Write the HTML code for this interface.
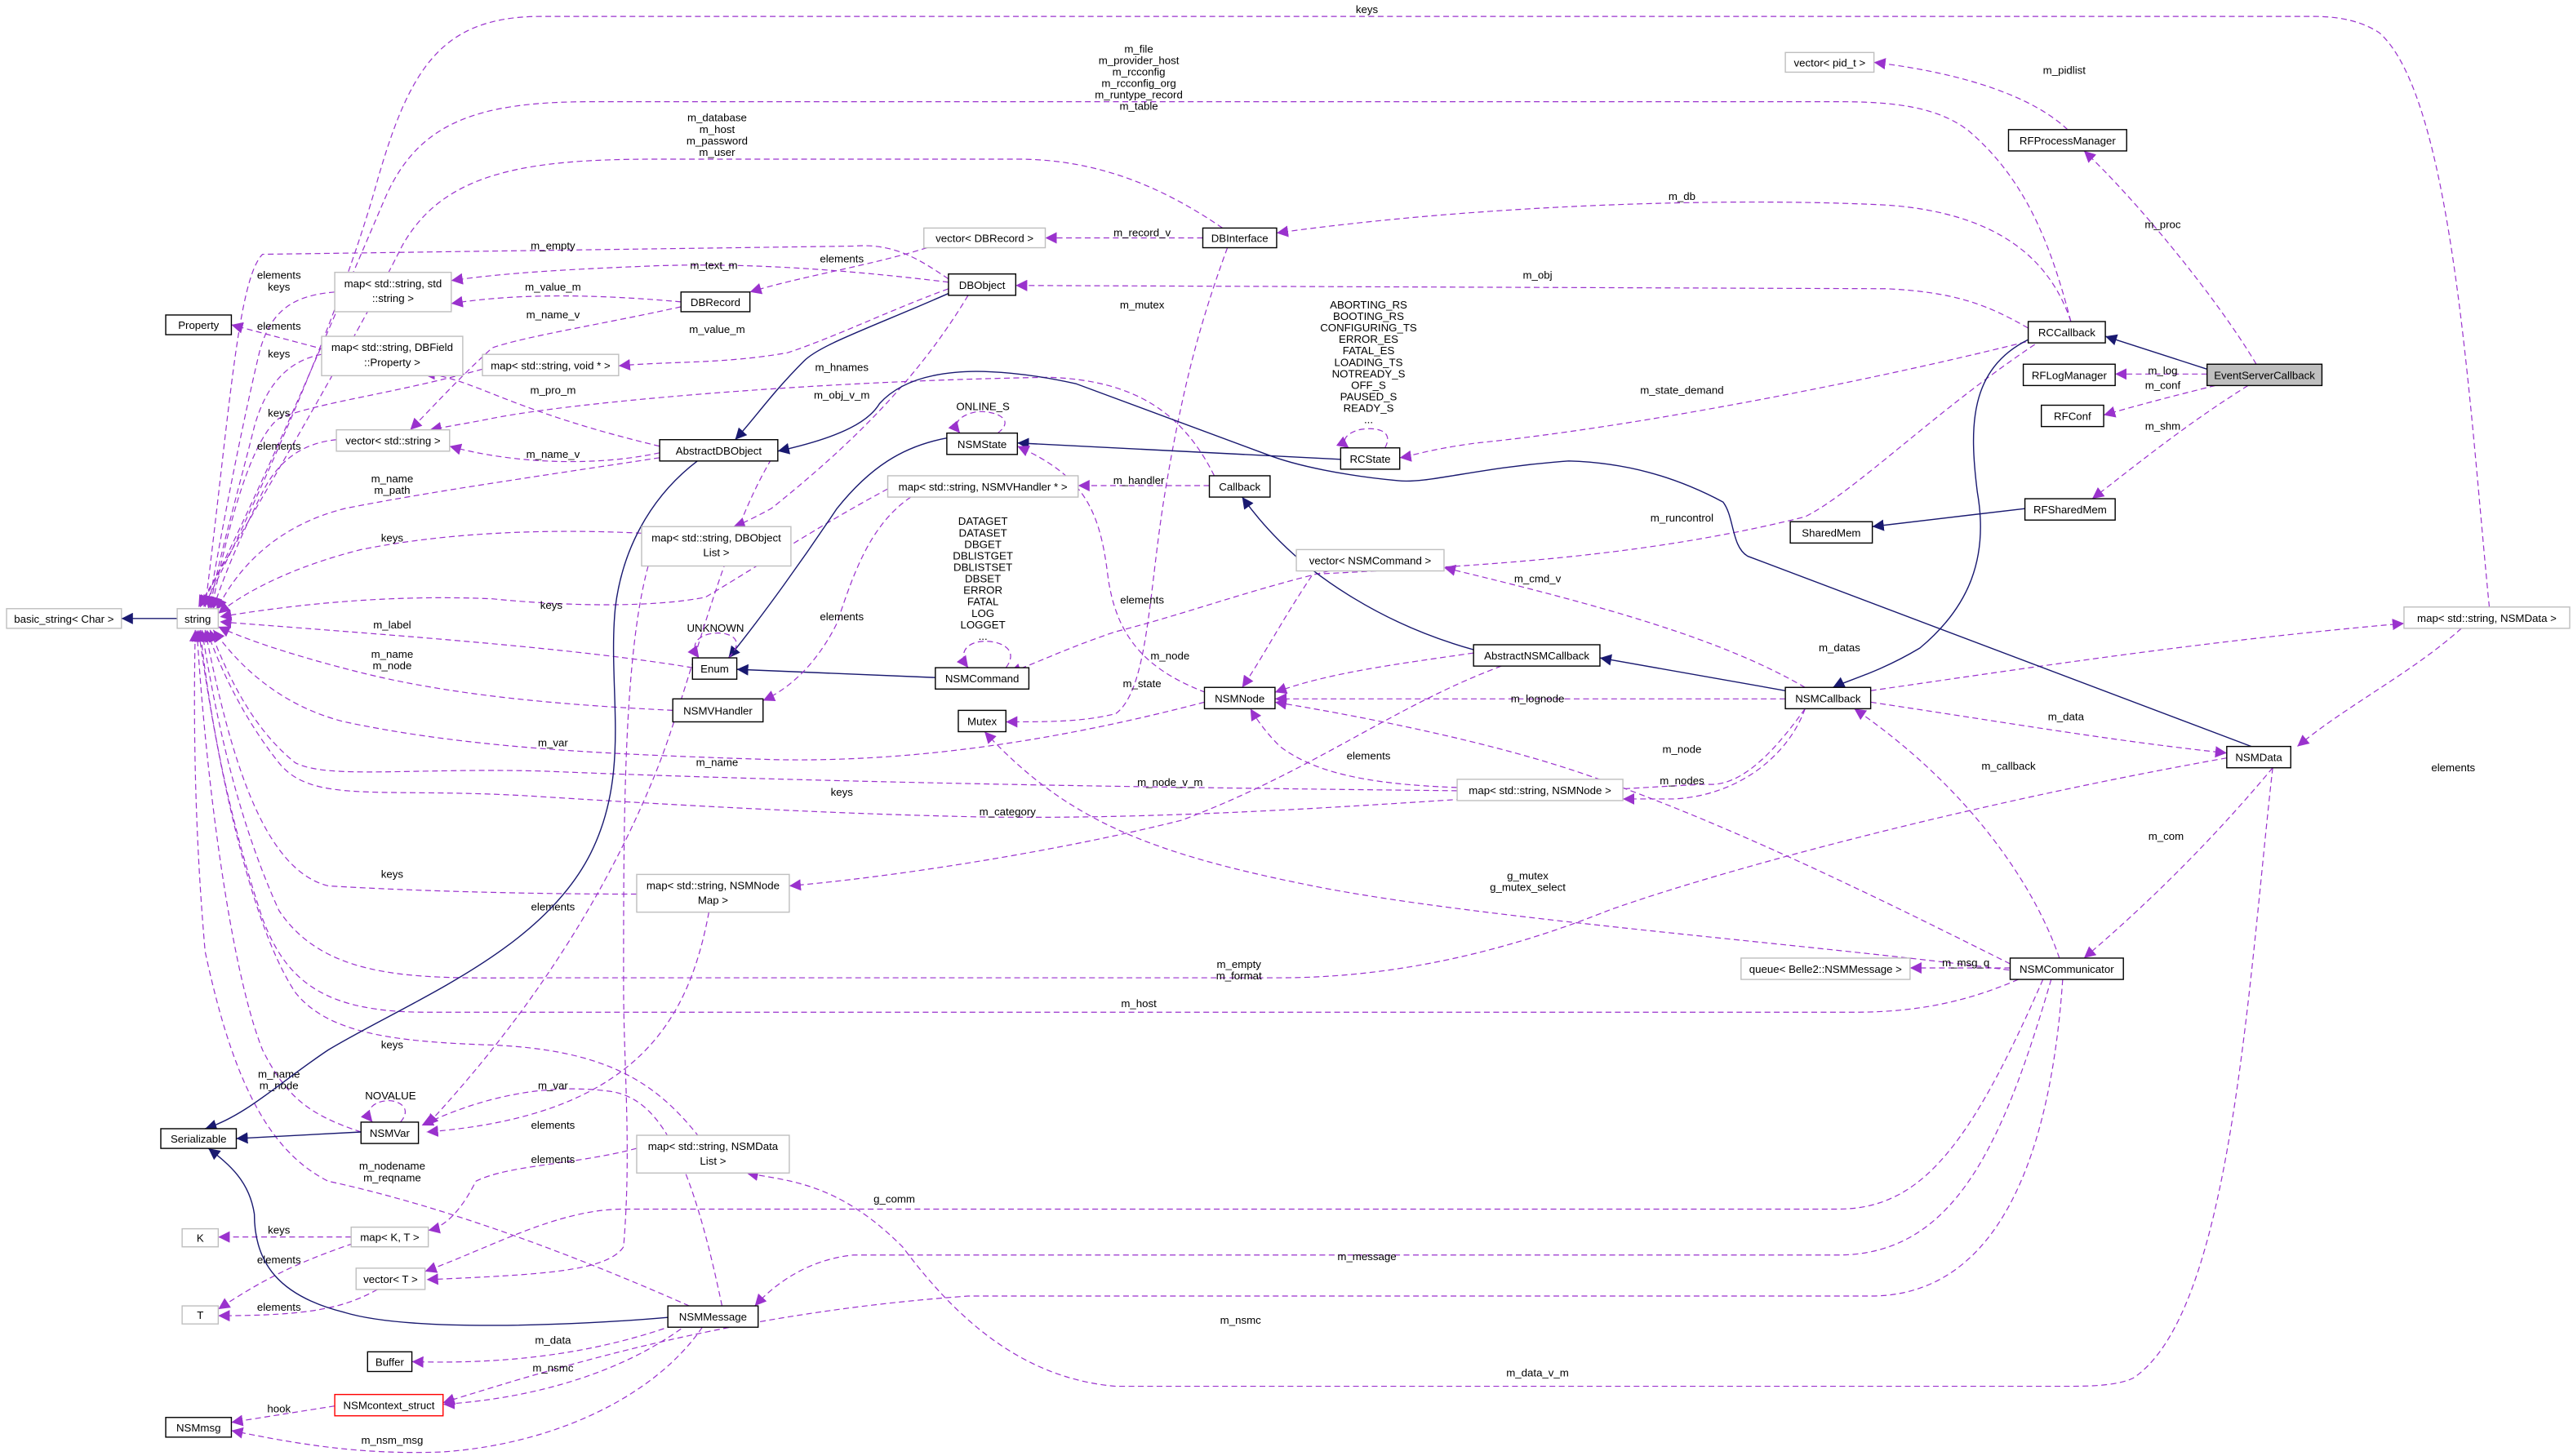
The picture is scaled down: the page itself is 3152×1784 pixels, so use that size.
<!DOCTYPE html>
<html><head><meta charset="utf-8"><style>
html,body{margin:0;padding:0;background:#fff;}
svg{display:block;}
text{font-family:"Liberation Sans",sans-serif;font-size:6.6px;fill:#000;}
.d{fill:none;stroke:#9a32cd;stroke-width:0.6;stroke-dasharray:3.5,2.2;}
.s{fill:none;stroke:#191970;stroke-width:0.7;}
.nb{fill:#fff;stroke:#000;stroke-width:0.7;}
.ng{fill:#fff;stroke:#bfbfbf;stroke-width:0.7;}
.nr{fill:#fff;stroke:#ff0000;stroke-width:0.7;}
</style></head><body>
<svg width="3152" height="1784" viewBox="0 0 1568 887.5" preserveAspectRatio="none" xmlns="http://www.w3.org/2000/svg">
<defs>
<marker id="p" viewBox="0 0 10 10" refX="10" refY="5" markerWidth="7" markerHeight="7" markerUnits="userSpaceOnUse" orient="auto"><path d="M0,0 L10,5 L0,10 z" fill="#9a32cd"/></marker>
<marker id="n" viewBox="0 0 10 10" refX="10" refY="5" markerWidth="7" markerHeight="7" markerUnits="userSpaceOnUse" orient="auto"><path d="M0,0 L10,5 L0,10 z" fill="#191970"/></marker>
</defs>
<g text-anchor="middle">
<path class="d" marker-end="url(#p)" d="M1517,370 C1505,250 1495,60 1450,20 Q1435,10 1410,10 L330,10 C270,10 250,40 230,110 C205,200 150,320 124,370"/>
<text x="833" y="8">keys</text>
<path class="d" marker-end="url(#p)" d="M1262,196 C1250,150 1235,110 1200,80 C1180,64 1150,62 1120,62 L360,62 C290,62 255,75 235,120 C205,190 150,320 122,370"/>
<text x="694" y="32">m_file</text><text x="694" y="39">m_provider_host</text><text x="694" y="46">m_rcconfig</text><text x="694" y="53">m_rcconfig_org</text><text x="694" y="60">m_runtype_record</text><text x="694" y="67">m_table</text>
<path class="d" marker-end="url(#p)" d="M745,139 C710,115 670,97 620,97 L400,97 C320,97 270,105 245,150 C215,210 150,320 121,370"/>
<text x="437" y="74">m_database</text><text x="437" y="81">m_host</text><text x="437" y="88">m_password</text><text x="437" y="95">m_user</text>
<path class="d" marker-end="url(#p)" d="M578,170 C560,158 545,148 520,150 L160,155 C145,170 140,250 125,370"/>
<text x="337" y="152">m_empty</text>
<path class="d" marker-end="url(#p)" d="M204,178 C180,180 165,188 158,215 C145,270 132,340 127,371"/>
<text x="170" y="170">elements</text><text x="170" y="177">keys</text>
<path class="d" marker-end="url(#p)" d="M196,216 C175,220 162,235 155,260 C145,300 132,345 128,371"/>
<text x="170" y="218">keys</text>
<path class="d" marker-end="url(#p)" d="M294,225 C240,240 195,245 170,255 C150,270 135,340 129,371"/>
<text x="170" y="254">keys</text>
<path class="d" marker-end="url(#p)" d="M205,268 C185,270 170,280 160,300 C145,330 135,355 130,371"/>
<text x="170" y="274">elements</text>
<path class="d" marker-end="url(#p)" d="M402,279 C330,290 260,300 210,310 C170,320 145,345 132,372"/>
<text x="239" y="294">m_name</text><text x="239" y="301">m_path</text>
<path class="d" marker-end="url(#p)" d="M391,325 C330,322 270,325 220,335 C180,345 150,360 133,374"/>
<text x="239" y="330">keys</text>
<path class="d" marker-end="url(#p)" d="M541,298 C500,320 470,340 430,364 C400,370 350,370 300,365 C230,362 170,370 134,376"/>
<text x="336" y="371">keys</text>
<path class="d" marker-end="url(#p)" d="M422,407 C350,395 250,388 134,379"/>
<text x="239" y="383">m_label</text>
<path class="d" marker-end="url(#p)" d="M410,433 C350,430 280,425 220,410 C180,400 150,390 133,382"/>
<text x="239" y="401">m_name</text><text x="239" y="408">m_node</text>
<path class="d" marker-end="url(#p)" d="M734,428 C650,450 560,465 470,463 C380,460 290,457 210,440 C170,430 145,405 130,384"/>
<text x="437" y="467">m_name</text>
<path class="d" marker-end="url(#p)" d="M888,482 C700,480 500,477 330,470 C250,468 200,475 180,465 C155,445 140,415 128,384"/>
<text x="513" y="485">keys</text>
<path class="d" marker-end="url(#p)" d="M1100,432 C1080,460 1060,480 1040,478 C900,485 750,500 600,498 C500,496 400,490 320,485 C230,480 190,490 170,465 C150,440 135,410 126,384"/>
<text x="614" y="497">m_category</text>
<path class="d" marker-end="url(#p)" d="M388,545 C320,545 250,543 200,540 C160,530 140,460 125,384"/>
<text x="239" y="535">keys</text>
<path class="d" marker-end="url(#p)" d="M1357,462 C1200,490 1050,530 980,555 C930,575 860,596 780,596 L330,596 C260,596 200,600 170,555 C145,500 132,440 123,384"/>
<text x="755" y="590">m_empty</text><text x="755" y="597">m_format</text>
<path class="d" marker-end="url(#p)" d="M1230,597 C1200,610 1170,617 1130,617 L260,617 C200,617 175,600 160,560 C140,500 128,440 122,384"/>
<text x="694" y="614">m_host</text>
<path class="d" marker-end="url(#p)" d="M426,693 C400,660 370,640 300,637 C240,635 200,630 180,605 C150,560 130,450 121,384"/>
<text x="239" y="639">keys</text>
<path class="d" marker-end="url(#p)" d="M220,690 C190,680 175,670 160,640 C140,590 125,470 120,384"/>
<text x="170" y="657">m_name</text><text x="170" y="664">m_node</text>
<path class="d" marker-end="url(#p)" d="M420,796 C350,765 270,735 200,720 C160,700 140,650 125,580 C118,500 118,430 119,384"/>
<text x="239" y="713">m_nodename</text><text x="239" y="720">m_reqname</text>
<path class="s" marker-end="url(#n)" d="M108,377 L74,377"/>
<path class="d" marker-end="url(#p)" d="M415,184 C370,180 320,178 275,185"/>
<text x="337" y="177">m_value_m</text>
<path class="d" marker-end="url(#p)" d="M578,172 C520,165 460,160 400,162 C350,164 310,166 275,171"/>
<text x="435" y="164">m_text_m</text>
<path class="d" marker-end="url(#p)" d="M565,151 C530,162 490,168 457,178"/>
<text x="513" y="160">elements</text>
<path class="d" marker-end="url(#p)" d="M415,187 C370,197 320,205 300,212 C280,230 262,250 250,262"/>
<text x="337" y="194">m_name_v</text>
<path class="d" marker-end="url(#p)" d="M578,176 C540,190 510,205 480,215 C440,222 410,220 377,223"/>
<text x="437" y="203">m_value_m</text>
<path class="d" marker-end="url(#p)" d="M402,272 C360,262 330,252 300,240 C280,232 268,228 258,228"/>
<path class="d" marker-end="url(#p)" d="M740,290 C720,250 690,232 640,230 C500,232 350,245 300,255 C285,258 272,260 262,262"/>
<text x="513" y="226">m_hnames</text>
<text x="337" y="240">m_pro_m</text>
<path class="d" marker-end="url(#p)" d="M402,276 C360,285 310,282 274,272"/>
<text x="337" y="279">m_name_v</text>
<path class="d" marker-end="url(#p)" d="M209,216 L141,198"/>
<text x="170" y="201">elements</text>
<path class="d" marker-end="url(#p)" d="M590,180 C560,230 520,270 470,310 C455,318 450,320 447,321"/>
<text x="513" y="243">m_obj_v_m</text>
<path class="s" marker-end="url(#n)" d="M580,178 C530,200 500,210 490,220 C470,240 460,255 448,268"/>
<path class="d" marker-end="url(#p)" d="M733,145 L637,145"/>
<text x="696" y="144">m_record_v</text>
<path class="d" marker-end="url(#p)" d="M1262,196 C1250,160 1220,130 1150,125 C1050,120 900,125 778,142"/>
<text x="1025" y="122">m_db</text>
<path class="d" marker-end="url(#p)" d="M1236,200 C1210,185 1190,178 1150,176 L619,174"/>
<text x="937" y="170">m_obj</text>
<path class="d" marker-end="url(#p)" d="M748,151 C730,200 720,240 710,300 C700,360 700,420 680,435 C660,440 640,440 613,440"/>
<text x="696" y="188">m_mutex</text>
<path class="d" marker-end="url(#p)" d="M1240,207 C1150,230 1000,260 900,270 C870,274 860,278 853,279"/>
<text x="1025" y="240">m_state_demand</text>
<text x="834" y="188">ABORTING_RS</text><text x="834" y="195">BOOTING_RS</text><text x="834" y="202">CONFIGURING_TS</text><text x="834" y="209">ERROR_ES</text><text x="834" y="216">FATAL_ES</text><text x="834" y="223">LOADING_TS</text><text x="834" y="230">NOTREADY_S</text><text x="834" y="237">OFF_S</text><text x="834" y="244">PAUSED_S</text><text x="834" y="251">READY_S</text><text x="834" y="258">...</text>
<path class="d" marker-end="url(#p)" d="M844,273 C850,262 838,260 828,262 C818,265 818,270 822,273"/>
<path class="d" marker-end="url(#p)" d="M1240,210 C1180,250 1130,300 1100,315 C1000,340 900,345 800,350 C780,380 770,400 757,419"/>
<text x="1025" y="318">m_runcontrol</text>
<path class="s" marker-end="url(#n)" d="M1345,225 L1283,205"/>
<path class="s" marker-end="url(#n)" d="M1236,207 C1200,225 1200,260 1205,300 C1212,340 1200,370 1170,395 C1145,410 1125,415 1117,419"/>
<path class="d" marker-end="url(#p)" d="M1345,228 L1289,228"/>
<text x="1318" y="228">m_log</text>
<path class="d" marker-end="url(#p)" d="M1350,235 C1330,240 1310,245 1282,253"/>
<text x="1318" y="237">m_conf</text>
<path class="d" marker-end="url(#p)" d="M1370,235 C1330,260 1300,285 1275,304"/>
<text x="1318" y="262">m_shm</text>
<path class="d" marker-end="url(#p)" d="M1375,222 C1350,180 1300,120 1270,92"/>
<text x="1318" y="139">m_proc</text>
<path class="d" marker-end="url(#p)" d="M1260,79 C1240,60 1200,45 1142,38"/>
<text x="1258" y="45">m_pidlist</text>
<path class="s" marker-end="url(#n)" d="M1234,310 L1141,321"/>
<path class="s" marker-end="url(#n)" d="M817,280 L620,270"/>
<path class="s" marker-end="url(#n)" d="M577,267 C550,272 530,285 510,310 C490,340 465,375 444,401"/>
<path class="s" marker-end="url(#n)" d="M570,413 L449,408"/>
<path class="d" marker-end="url(#p)" d="M608,264 C620,255 605,250 595,251 C585,253 580,258 585,264"/>
<text x="599" y="250">ONLINE_S</text>
<path class="d" marker-end="url(#p)" d="M444,401 C455,390 445,385 435,386 C425,387 420,393 426,401"/>
<text x="436" y="385">UNKNOWN</text>
<path class="d" marker-end="url(#p)" d="M613,407 C622,395 608,390 598,391 C588,392 584,399 590,407"/>
<text x="599" y="320">DATAGET</text><text x="599" y="327">DATASET</text><text x="599" y="334">DBGET</text><text x="599" y="341">DBLISTGET</text><text x="599" y="348">DBLISTSET</text><text x="599" y="355">DBSET</text><text x="599" y="362">ERROR</text><text x="599" y="369">FATAL</text><text x="599" y="376">LOG</text><text x="599" y="383">LOGGET</text><text x="599" y="390">...</text>
<path class="d" marker-end="url(#p)" d="M737,296 L657,296"/>
<text x="694" y="295">m_handler</text>
<path class="d" marker-end="url(#p)" d="M555,303 C530,320 520,350 510,380 C500,400 485,418 465,427"/>
<text x="513" y="378">elements</text>
<path class="d" marker-end="url(#p)" d="M810,348 C760,360 720,375 680,385 C650,395 630,405 615,410"/>
<text x="696" y="368">elements</text>
<path class="d" marker-end="url(#p)" d="M740,424 C700,410 680,390 675,350 C670,310 660,290 620,272"/>
<text x="696" y="419">m_state</text>
<path class="s" marker-end="url(#n)" d="M898,396 C840,380 800,350 780,330 C770,320 762,310 757,303"/>
<path class="s" marker-end="url(#n)" d="M1088,421 L975,401"/>
<path class="d" marker-end="url(#p)" d="M898,398 C850,405 810,410 777,422"/>
<text x="713" y="402">m_node</text>
<path class="d" marker-end="url(#p)" d="M1088,426 L777,426"/>
<text x="937" y="428">m_lognode</text>
<path class="d" marker-end="url(#p)" d="M1100,419 C1050,390 980,370 880,346"/>
<text x="937" y="355">m_cmd_v</text>
<path class="d" marker-end="url(#p)" d="M1140,421 C1250,405 1350,390 1465,380"/>
<text x="1121" y="397">m_datas</text>
<path class="d" marker-end="url(#p)" d="M1500,383 C1470,410 1430,430 1400,455"/>
<text x="1495" y="470">elements</text>
<path class="d" marker-end="url(#p)" d="M1140,428 C1220,440 1290,452 1357,459"/>
<text x="1259" y="439">m_data</text>
<path class="s" marker-end="url(#n)" d="M1372,455 L1065,339 C1055,333 1057,315 1050,306 C1020,290 990,282 956,281 C900,285 870,295 852,293 C820,290 790,284 772,277 L656,234 C630,228 600,225 582,227 C560,229 545,236 536,246 C530,256 515,266 474,275"/>
<path class="d" marker-end="url(#p)" d="M1230,590 C1150,550 1050,500 960,470 C900,450 820,435 777,428"/>
<text x="1025" y="459">m_node</text>
<path class="d" marker-end="url(#p)" d="M888,480 C830,478 800,470 780,455 C770,445 765,437 762,432"/>
<text x="834" y="463">elements</text>
<path class="d" marker-end="url(#p)" d="M1100,432 C1090,460 1060,485 1020,487 L989,487"/>
<text x="1025" y="478">m_nodes</text>
<path class="d" marker-end="url(#p)" d="M915,406 C850,430 800,470 720,500 C640,520 540,535 481,540"/>
<text x="713" y="479">m_node_v_m</text>
<path class="d" marker-end="url(#p)" d="M1255,584 C1240,540 1200,480 1130,432"/>
<text x="1224" y="469">m_callback</text>
<path class="d" marker-end="url(#p)" d="M1385,468 C1350,510 1310,550 1270,584"/>
<text x="1320" y="512">m_com</text>
<path class="d" marker-end="url(#p)" d="M1230,592 C1100,575 900,560 800,540 C700,520 650,500 600,446"/>
<text x="931" y="536">g_mutex</text><text x="931" y="543">g_mutex_select</text>
<path class="d" marker-end="url(#p)" d="M1225,590 L1164,590"/>
<text x="1198" y="589">m_msg_q</text>
<path class="d" marker-end="url(#p)" d="M1245,597 C1200,700 1170,737 1120,737 L380,737 C340,737 300,760 259,775"/>
<text x="545" y="733">g_comm</text>
<path class="d" marker-end="url(#p)" d="M1250,597 C1220,700 1190,765 1120,765 L520,765 C490,768 470,785 460,796"/>
<text x="833" y="768">m_message</text>
<path class="d" marker-end="url(#p)" d="M1257,597 C1250,700 1220,790 1140,790 L590,790 C450,800 350,830 270,855"/>
<text x="756" y="807">m_nsmc</text>
<path class="d" marker-end="url(#p)" d="M1385,468 C1370,600 1360,800 1300,840 C1290,845 1270,845 1260,845 L680,845 C620,840 580,800 550,760 C510,720 480,720 455,715"/>
<text x="937" y="839">m_data_v_m</text>
<path class="d" marker-end="url(#p)" d="M432,556 C420,620 390,680 260,690"/>
<text x="337" y="555">elements</text>
<path class="d" marker-end="url(#p)" d="M470,280 C440,330 420,420 400,470 C380,520 340,600 260,686"/>
<text x="337" y="455">m_var</text>
<path class="d" marker-end="url(#p)" d="M440,796 C420,700 400,668 370,665 C330,660 290,670 257,686"/>
<text x="337" y="664">m_var</text>
<path class="d" marker-end="url(#p)" d="M244,684 C252,675 242,670 235,671 C226,672 222,678 227,684"/>
<text x="238" y="670">NOVALUE</text>
<path class="d" marker-end="url(#p)" d="M388,700 C350,710 310,710 290,720 C280,740 270,748 261,750"/>
<text x="337" y="688">elements</text>
<path class="d" marker-end="url(#p)" d="M395,345 C380,400 380,500 380,600 C380,650 385,700 380,760 C370,775 330,777 260,780"/>
<text x="337" y="709">elements</text>
<path class="d" marker-end="url(#p)" d="M214,754 L133,754"/>
<text x="170" y="752">keys</text>
<path class="d" marker-end="url(#p)" d="M215,758 C180,770 160,780 133,798"/>
<text x="170" y="770">elements</text>
<path class="d" marker-end="url(#p)" d="M230,786 C210,797 190,802 133,802"/>
<text x="170" y="799">elements</text>
<path class="s" marker-end="url(#n)" d="M220,690 L144,694"/>
<path class="s" marker-end="url(#n)" d="M407,803 C350,808 250,812 210,800 C170,790 155,770 155,740 C152,720 140,710 127,700"/>
<path class="s" marker-end="url(#n)" d="M425,281 C400,300 380,330 375,370 C370,420 385,470 360,520 C330,580 250,610 200,640 C170,660 150,680 125,688"/>
<path class="d" marker-end="url(#p)" d="M410,808 C370,822 320,832 251,830"/>
<text x="337" y="819">m_data</text>
<path class="d" marker-end="url(#p)" d="M415,810 C380,835 330,852 270,856"/>
<text x="337" y="836">m_nsmc</text>
<path class="d" marker-end="url(#p)" d="M204,857 L141,867"/>
<text x="170" y="861">hook</text>
<path class="d" marker-end="url(#p)" d="M428,809 C400,850 340,880 270,885 C220,887 180,880 141,872"/>
<text x="239" y="880">m_nsm_msg</text>
</g>
<g text-anchor="middle">
<rect class="ng" x="4" y="371" width="70" height="12"/><text x="39" y="379.5">basic_string&lt; Char &gt;</text>
<rect class="ng" x="108" y="371" width="25" height="12"/><text x="120.5" y="379.5">string</text>
<rect class="nb" x="101" y="192" width="40" height="12"/><text x="121" y="200.5">Property</text>
<rect class="nb" x="98" y="688" width="46" height="12"/><text x="121" y="696.5">Serializable</text>
<rect class="ng" x="111" y="749" width="22" height="11"/><text x="122" y="757">K</text>
<rect class="ng" x="111" y="796" width="22" height="11"/><text x="122" y="804">T</text>
<rect class="nb" x="224" y="824" width="27" height="12"/><text x="237.5" y="832.5">Buffer</text>
<rect class="nb" x="101" y="864" width="40" height="12"/><text x="121" y="872.5">NSMmsg</text>
<rect class="ng" x="204" y="166" width="71" height="24"/><text x="239.5" y="175">map&lt; std::string, std</text><text x="239.5" y="184">::string &gt;</text>
<rect class="ng" x="196" y="205" width="86" height="24"/><text x="239" y="214">map&lt; std::string, DBField</text><text x="239" y="223">::Property &gt;</text>
<rect class="ng" x="205" y="262" width="69" height="13"/><text x="239.5" y="271">vector&lt; std::string &gt;</text>
<rect class="ng" x="294" y="216" width="83" height="13"/><text x="335.5" y="225">map&lt; std::string, void * &gt;</text>
<rect class="nb" x="415" y="178" width="42" height="12"/><text x="436" y="186.5">DBRecord</text>
<rect class="nb" x="578" y="167" width="41" height="13"/><text x="598.5" y="176">DBObject</text>
<rect class="ng" x="563" y="139" width="74" height="12"/><text x="600" y="147.5">vector&lt; DBRecord &gt;</text>
<rect class="nb" x="733" y="139" width="45" height="12"/><text x="755.5" y="147.5">DBInterface</text>
<rect class="nb" x="402" y="268" width="72" height="13"/><text x="438" y="277">AbstractDBObject</text>
<rect class="ng" x="391" y="321" width="91" height="24"/><text x="436.5" y="330">map&lt; std::string, DBObject</text><text x="436.5" y="339">List &gt;</text>
<rect class="nb" x="577" y="264" width="43" height="13"/><text x="598.5" y="273">NSMState</text>
<rect class="ng" x="541" y="290" width="116" height="13"/><text x="599" y="299">map&lt; std::string, NSMVHandler * &gt;</text>
<rect class="nb" x="737" y="290" width="37" height="13"/><text x="755.5" y="299">Callback</text>
<rect class="nb" x="422" y="401" width="27" height="13"/><text x="435.5" y="410">Enum</text>
<rect class="nb" x="410" y="426" width="55" height="14"/><text x="437.5" y="435.5">NSMVHandler</text>
<rect class="nb" x="570" y="407" width="57" height="13"/><text x="598.5" y="416">NSMCommand</text>
<rect class="nb" x="584" y="433" width="29" height="13"/><text x="598.5" y="442">Mutex</text>
<rect class="nb" x="734" y="419" width="43" height="13"/><text x="755.5" y="428">NSMNode</text>
<rect class="nb" x="817" y="273" width="36" height="13"/><text x="835" y="282">RCState</text>
<rect class="ng" x="790" y="335" width="90" height="13"/><text x="835" y="344">vector&lt; NSMCommand &gt;</text>
<rect class="nb" x="898" y="393" width="77" height="13"/><text x="936.5" y="402">AbstractNSMCallback</text>
<rect class="nb" x="1088" y="419" width="52" height="13"/><text x="1114" y="428">NSMCallback</text>
<rect class="ng" x="888" y="475" width="101" height="13"/><text x="938.5" y="484">map&lt; std::string, NSMNode &gt;</text>
<rect class="ng" x="388" y="533" width="93" height="23"/><text x="434.5" y="542">map&lt; std::string, NSMNode</text><text x="434.5" y="551">Map &gt;</text>
<rect class="nb" x="220" y="684" width="35" height="13"/><text x="237.5" y="693">NSMVar</text>
<rect class="ng" x="388" y="692" width="93" height="23"/><text x="434.5" y="701">map&lt; std::string, NSMData</text><text x="434.5" y="710">List &gt;</text>
<rect class="ng" x="214" y="748" width="47" height="12"/><text x="237.5" y="756.5">map&lt; K, T &gt;</text>
<rect class="ng" x="217" y="773" width="42" height="13"/><text x="238" y="782">vector&lt; T &gt;</text>
<rect class="nb" x="407" y="796" width="55" height="13"/><text x="434.5" y="805">NSMMessage</text>
<rect class="nr" x="204" y="850" width="66" height="13"/><text x="237" y="859">NSMcontext_struct</text>
<rect class="ng" x="1061" y="584" width="103" height="13"/><text x="1112.5" y="593">queue&lt; Belle2::NSMMessage &gt;</text>
<rect class="nb" x="1225" y="584" width="69" height="13"/><text x="1259.5" y="593">NSMCommunicator</text>
<rect class="nb" x="1357" y="455" width="39" height="13"/><text x="1376.5" y="464">NSMData</text>
<rect class="ng" x="1465" y="370" width="101" height="13"/><text x="1515.5" y="379">map&lt; std::string, NSMData &gt;</text>
<rect class="nb" x="1236" y="196" width="47" height="13"/><text x="1259.5" y="205">RCCallback</text>
<rect class="nb" x="1233" y="222" width="56" height="13"/><text x="1261" y="231">RFLogManager</text>
<rect class="nb" x="1244" y="247" width="38" height="13"/><text x="1263" y="256">RFConf</text>
<rect x="1345" y="222" width="70" height="13" fill="#bfbfbf" stroke="#000" stroke-width="0.7"/><text x="1380" y="231">EventServerCallback</text>
<rect class="nb" x="1234" y="304" width="55" height="13"/><text x="1261.5" y="313">RFSharedMem</text>
<rect class="nb" x="1091" y="318" width="50" height="13"/><text x="1116" y="327">SharedMem</text>
<rect class="nb" x="1224" y="79" width="72" height="13"/><text x="1260" y="88">RFProcessManager</text>
<rect class="ng" x="1088" y="32" width="54" height="12"/><text x="1115" y="40.5">vector&lt; pid_t &gt;</text>
</g>
</svg>
</body></html>
